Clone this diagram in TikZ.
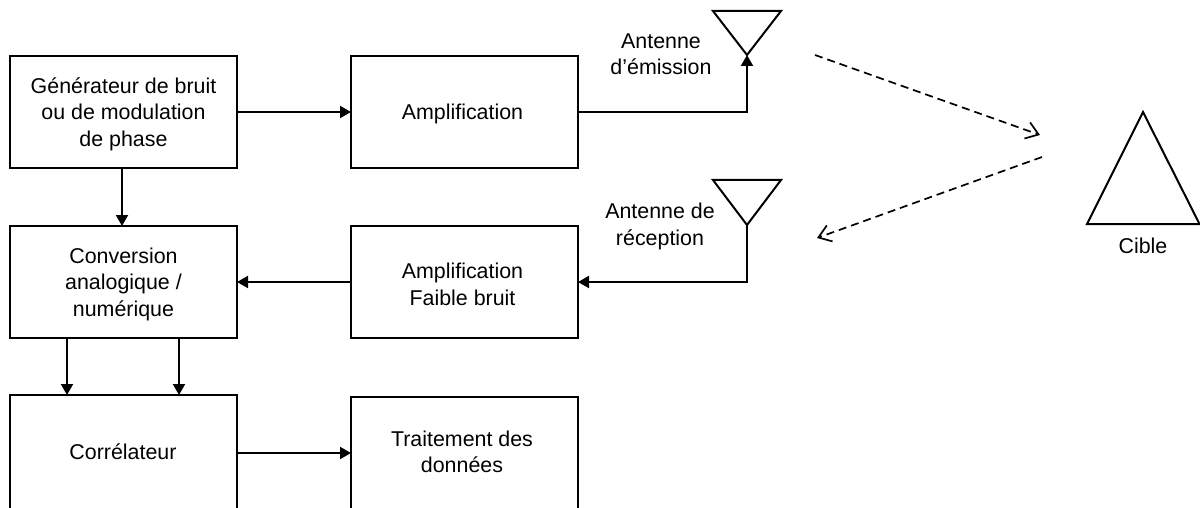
\documentclass[tikz,border=0pt]{standalone}
\usepackage{fontspec}
\setmainfont{Liberation Sans}
\usetikzlibrary{arrows.meta}
\newcommand\firstline{\rule{0pt}{20pt}}
\newcommand\nudge{\hspace*{4pt}}
\tikzset{
  x=1pt,y=-1pt,
  blockbox/.style={draw=black,line width=2pt,fill=white,minimum width=227pt,minimum height=112pt,inner sep=0pt,outer sep=0pt,align=center,font=\fontsize{21.4}{26.5}\selectfont,anchor=north west},
  label/.style={inner sep=0pt,align=center,font=\fontsize{21.4}{26.5}\selectfont},
  conn/.style={line width=2pt,-{Triangle[length=11pt,width=12pt]}},
  wave/.style={line width=1.7pt,dash pattern=on 8pt off 5pt,-{Straight Barb[length=12pt,width=17pt,line width=1.7pt]}},
  shapeline/.style={draw=black,line width=2pt,line join=miter}
}
\begin{document}
\begin{tikzpicture}
\useasboundingbox (0,0) rectangle (1200,508);
\node[blockbox] (gen) at (10,56) {\firstline Générateur de bruit\\ou de modulation\\de phase};
\node[blockbox] (amp) at (351,56) {\firstline Amplification\nudge};
\node[blockbox] (conv) at (10,226) {\firstline Conversion\\analogique /\\numérique};
\node[blockbox] (lna) at (351,226) {\firstline Amplification\nudge\\Faible bruit\nudge};
\node[blockbox,minimum height=125pt] (corr) at (10,395) {};
\node[blockbox,minimum height=125pt] (trt) at (351,397) {};
\node[label] (corrt) at (123,452) {Corrélateur};
\node[label] (trtt) at (462,452) {Traitement des\\données};
\coordinate (a1l) at (713,11); \coordinate (a1r) at (781,11); \coordinate (a1b) at (747,55);
\coordinate (a2l) at (713,180); \coordinate (a2r) at (781,180); \coordinate (a2b) at (747,225);
\draw[shapeline] (a1l) -- (a1r) -- (a1b) -- cycle;
\draw[shapeline] (a2l) -- (a2r) -- (a2b) -- cycle;
\coordinate (ta) at (1143,112); \coordinate (tl) at (1087,224); \coordinate (tr) at (1199.5,224);
\draw[shapeline] (ta) -- (tl) -- (tr) -- cycle;
\node[label] (l1) at (661,54) {Antenne\\d’émission};
\node[label] (l2) at (660,226.5) {Antenne de\\réception};
\node[label] (l3) at (1143,246) {Cible};
\coordinate (g1) at (122,168);
\coordinate (g2) at (122,226);
\coordinate (c1s) at (67,338);
\coordinate (c2s) at (179,338);
\coordinate (c1e) at (67,395);
\coordinate (c2e) at (179,395);
\coordinate (ce) at (237,453);
\coordinate (te) at (351,453);
\draw[conn] (gen.east) -- (amp.west);
\draw[conn] (amp.east) -| (a1b);
\draw[conn] (a2b) |- (lna.east);
\draw[conn] (lna.west) -- (conv.east);
\draw[conn] (g1) -- (g2);
\draw[conn] (c1s) -- (c1e);
\draw[conn] (c2s) -- (c2e);
\draw[conn] (ce) -- (te);
\coordinate (w1s) at (815,55); \coordinate (w1e) at (1040,135);
\coordinate (w2s) at (1042,157); \coordinate (w2e) at (817,238);
\draw[wave] (w1s) -- (w1e);
\draw[wave] (w2s) -- (w2e);
\end{tikzpicture}
\end{document}
